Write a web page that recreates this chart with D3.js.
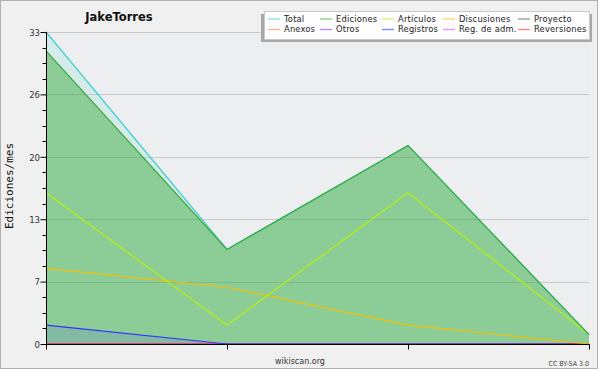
<!DOCTYPE html>
<html>
<head>
<meta charset="utf-8">
<script src="https://cdn.jsdelivr.net/npm/d3@7"></script>
<style>
html,body{margin:0;padding:0;background:#fff;}
svg{display:block;}
</style>
</head>
<body>
<svg id="chart" width="600" height="370"></svg>
<script>
// ---- data ----
const months = ["1", "2", "3", "4"];
const total       = [33, 10, 21, 1];
const ediciones   = [31, 10, 21, 1];
const articulos   = [16, 2, 16, 1];
const discusiones = [8, 6, 2, 0];
const proyecto    = [0, 0, 0, 0];
const anexos      = [0, 0, 0, 0];
const otros       = [0, 0, 0, 0];
const registros   = [2, 0, 0, 0];
const regAdm      = [0, 0, 0, 0];
const reversiones = [0, 0, 0, 0];
const seriesNames = ["Total", "Ediciones", "Artículos", "Discusiones", "Proyecto",
                     "Anexos", "Otros", "Registros", "Reg. de adm.", "Reversiones"];
const yTickValues = [0, 6.6, 13.2, 19.8, 26.4, 33];
const yTickLabels = ["0", "7", "13", "20", "26", "33"];
const title = "JakeTorres";
const yTitle = "Ediciones/mes";

// ---- styles ----
const colors = {
  "Total": "#3fcfcf", "Ediciones": "#3aa83a", "Artículos": "#b8f010", "Discusiones": "#f2bf00",
  "Proyecto": "#555555", "Anexos": "#ff7a45", "Otros": "#8a3ce6", "Registros": "#3333ff",
  "Reg. de adm.": "#d94cff", "Reversiones": "#ff3333"
};
const fills = {
  "Total": "rgba(80,220,200,0.15)",
  "Ediciones": "rgba(60,170,60,0.48)",
  "Registros": "rgba(60,60,255,0.12)"
};
const values = {
  "Total": total, "Ediciones": ediciones, "Artículos": articulos, "Discusiones": discusiones,
  "Proyecto": proyecto, "Anexos": anexos, "Otros": otros, "Registros": registros,
  "Reg. de adm.": regAdm, "Reversiones": reversiones
};

const svg = d3.select("#chart");
const m = {left: 46, right: 589, top: 32, bottom: 344};

// outer background + frame
svg.append("rect").attr("x", 0.5).attr("y", 0.5).attr("width", 597).attr("height", 368)
  .attr("fill", "#f0f0f0").attr("stroke", "#b0b0b0");

// plot background
svg.append("rect").attr("x", m.left).attr("y", m.top).attr("width", m.right - m.left)
  .attr("height", m.bottom - m.top).attr("fill", "#edeef0");

const x = d3.scalePoint().domain(months).range([m.left, m.right]);
const y = d3.scaleLinear().domain([0, 33]).range([m.bottom, m.top]);

// gridlines
svg.append("g").selectAll("line").data(yTickValues.filter(v => v > 0)).join("line")
  .attr("x1", m.left).attr("x2", m.right)
  .attr("y1", d => Math.round(y(d)) + 0.5).attr("y2", d => Math.round(y(d)) + 0.5)
  .attr("stroke", "#c9c9c9").attr("stroke-width", 1);

// areas
const area = d3.area().x((d, i) => x(months[i])).y0(y(0)).y1(d => y(d));
const line = d3.line().x((d, i) => x(months[i])).y(d => y(d));

["Total", "Ediciones", "Registros"].forEach(name => {
  svg.append("path").datum(values[name]).attr("d", area).attr("fill", fills[name]);
});

// lines (draw zero series first, then visible ones)
const drawOrder = ["Proyecto", "Anexos", "Otros", "Reg. de adm.", "Reversiones",
                   "Registros", "Discusiones", "Artículos", "Total", "Ediciones"];
drawOrder.forEach(name => {
  svg.append("path").datum(values[name]).attr("d", line)
    .attr("fill", "none").attr("stroke", colors[name]).attr("stroke-width", 1.2);
});

// y axis
const yAxis = d3.axisLeft(y).tickValues(yTickValues).tickSize(6)
  .tickFormat((d, i) => yTickLabels[i]);
const gy = svg.append("g").attr("transform", `translate(${m.left + 0.5},0)`).call(yAxis);
gy.select(".domain").attr("stroke", "#000").attr("d", `M0,${m.top}V${m.bottom + 0.5}`);
gy.selectAll(".tick line").attr("stroke", "#000");
gy.selectAll(".tick text").attr("font-family", "DejaVu Sans Condensed, DejaVu Sans")
  .attr("font-size", 9.5).attr("fill", "#333").attr("x", -6.5).attr("dy", "0.34em");

// minor ticks
const minor = d3.range(0, 33.001, 1.65).filter((v, i) => i % 4 !== 0);
svg.append("g").selectAll("line").data(minor).join("line")
  .attr("x1", m.left - 3.5).attr("x2", m.left)
  .attr("y1", d => Math.round(y(d)) + 0.5).attr("y2", d => Math.round(y(d)) + 0.5)
  .attr("stroke", "#000");

// x axis
const xAxis = d3.axisBottom(x).tickSize(5).tickFormat("");
const gx = svg.append("g").attr("transform", `translate(0,${m.bottom + 0.5})`).call(xAxis);
gx.select(".domain").attr("stroke", "#000").attr("d", `M${m.left},0H${m.right + 0.5}`);
gx.selectAll(".tick line").attr("stroke", "#000");

// title
svg.append("text").attr("x", 119).attr("y", 21).attr("text-anchor", "middle")
  .attr("font-family", "DejaVu Sans").attr("font-weight", "bold").attr("font-size", 11.5)
  .attr("fill", "#111").text(title);

// y title
svg.append("text").attr("transform", "translate(13,186) rotate(-90)")
  .attr("text-anchor", "middle").attr("font-family", "DejaVu Sans Mono")
  .attr("font-size", 11).attr("fill", "#111").text(yTitle);

// footer
svg.append("text").attr("x", 300).attr("y", 364).attr("text-anchor", "middle")
  .attr("font-family", "DejaVu Sans").attr("font-size", 8).attr("fill", "#333").text("wikiscan.org");
svg.append("text").attr("x", 589).attr("y", 366).attr("text-anchor", "end")
  .attr("font-family", "DejaVu Sans Condensed, DejaVu Sans").attr("font-size", 7)
  .attr("fill", "#444").text("CC BY-SA 3.0");

// legend
svg.append("rect").attr("x", 261).attr("y", 14).attr("width", 331).attr("height", 28).attr("fill", "#a8a8a8");
svg.append("rect").attr("x", 264.5).attr("y", 11.5).attr("width", 325).attr("height", 28)
  .attr("fill", "#fdfdfd").attr("stroke", "#c8c8c8");
const colX = [268, 320, 382, 443, 518];
const rowY = [19, 29.5];
const lg = svg.append("g");
seriesNames.forEach((name, i) => {
  const cx = colX[i % 5], cy = rowY[Math.floor(i / 5)];
  lg.append("line").attr("x1", cx).attr("x2", cx + 12).attr("y1", cy).attr("y2", cy)
    .attr("stroke", colors[name]).attr("stroke-opacity", 0.6).attr("stroke-width", 1.3);
  lg.append("text").attr("x", cx + 16).attr("y", cy).attr("dy", "0.35em")
    .attr("font-family", "DejaVu Sans").attr("font-size", 8.3).attr("letter-spacing", 0.2)
    .attr("fill", "#222").text(name);
});
</script>
</body>
</html>
